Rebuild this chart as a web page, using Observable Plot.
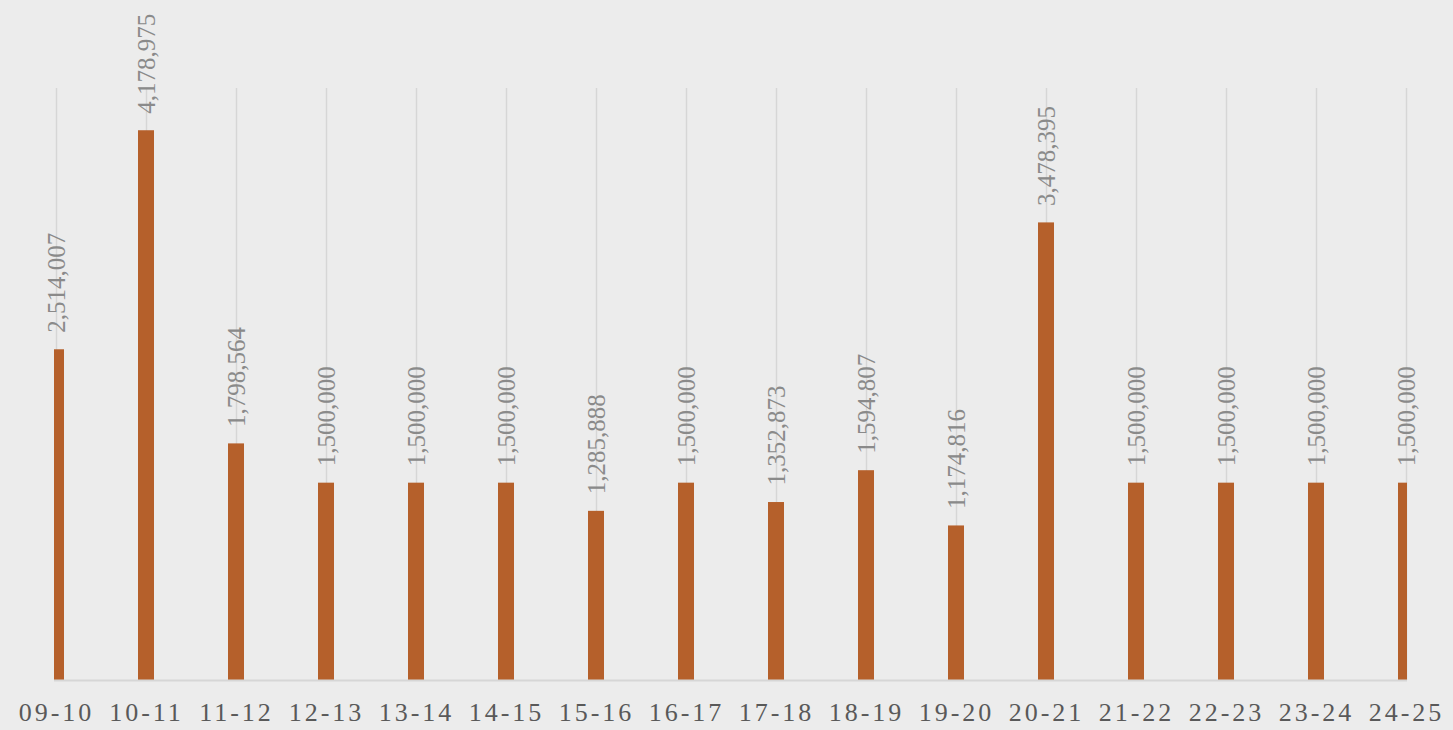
<!DOCTYPE html>
<html>
<head>
<meta charset="utf-8">
<script src="https://cdn.jsdelivr.net/npm/d3@7"></script>
<script src="https://cdn.jsdelivr.net/npm/@observablehq/plot@0.6"></script>
<style>
  html, body { margin: 0; padding: 0; background: #ececec; overflow: hidden; }
  #chart svg { display: block; background: #ececec; }
</style>
</head>
<body>
<div id="chart"></div>
<script>
const seasons = ["09-10","10-11","11-12","12-13","13-14","14-15","15-16","16-17","17-18","18-19","19-20","20-21","21-22","22-23","23-24","24-25"];
const values = [2514007, 4178975, 1798564, 1500000, 1500000, 1500000, 1285888, 1500000, 1352873, 1594807, 1174816, 3478395, 1500000, 1500000, 1500000, 1500000];

const data = seasons.map((s, i) => ({season: s, value: values[i]}));

const W = 1453, H = 730;
const mL = 54, mR = 46, mT = 88, mB = 50;
const pInner = 0.823;

const chart = Plot.plot({
  width: W,
  height: H,
  marginLeft: mL,
  marginRight: mR,
  marginTop: mT,
  marginBottom: mB,
  style: {background: "#ececec", fontFamily: "'Liberation Serif', serif", overflow: "visible"},
  x: {type: "band", domain: seasons, paddingInner: pInner, paddingOuter: -(1 - pInner) / 2, label: null},
  y: {domain: [0, 4500000], axis: null},
  marks: [
    Plot.ruleX(seasons, {x: d => d, stroke: "#d6d6d6", strokeWidth: 1.5}),
    Plot.barY(data, {x: "season", y: "value", fill: "#b5602b", clip: true}),
    Plot.ruleY([0], {stroke: "#d6d6d6", strokeWidth: 2}),
    Plot.text(data, {
      x: "season", y: "value",
      text: d => d3.format(",")(d.value),
      rotate: -90, textAnchor: "start", dy: -17,
      fill: "#8a8a8a", fontSize: 25, fontFamily: "'Liberation Serif', serif"
    }),
    Plot.axisX({
      tickSize: 0, tickPadding: 22, fontSize: 26, fill: "#595959",
      fontFamily: "'Liberation Serif', serif", label: null
    })
  ]
});
chart.querySelectorAll("[aria-label='x-axis tick label'] text").forEach(t => t.setAttribute("letter-spacing", "3"));
document.getElementById("chart").appendChild(chart);
</script>
</body>
</html>
